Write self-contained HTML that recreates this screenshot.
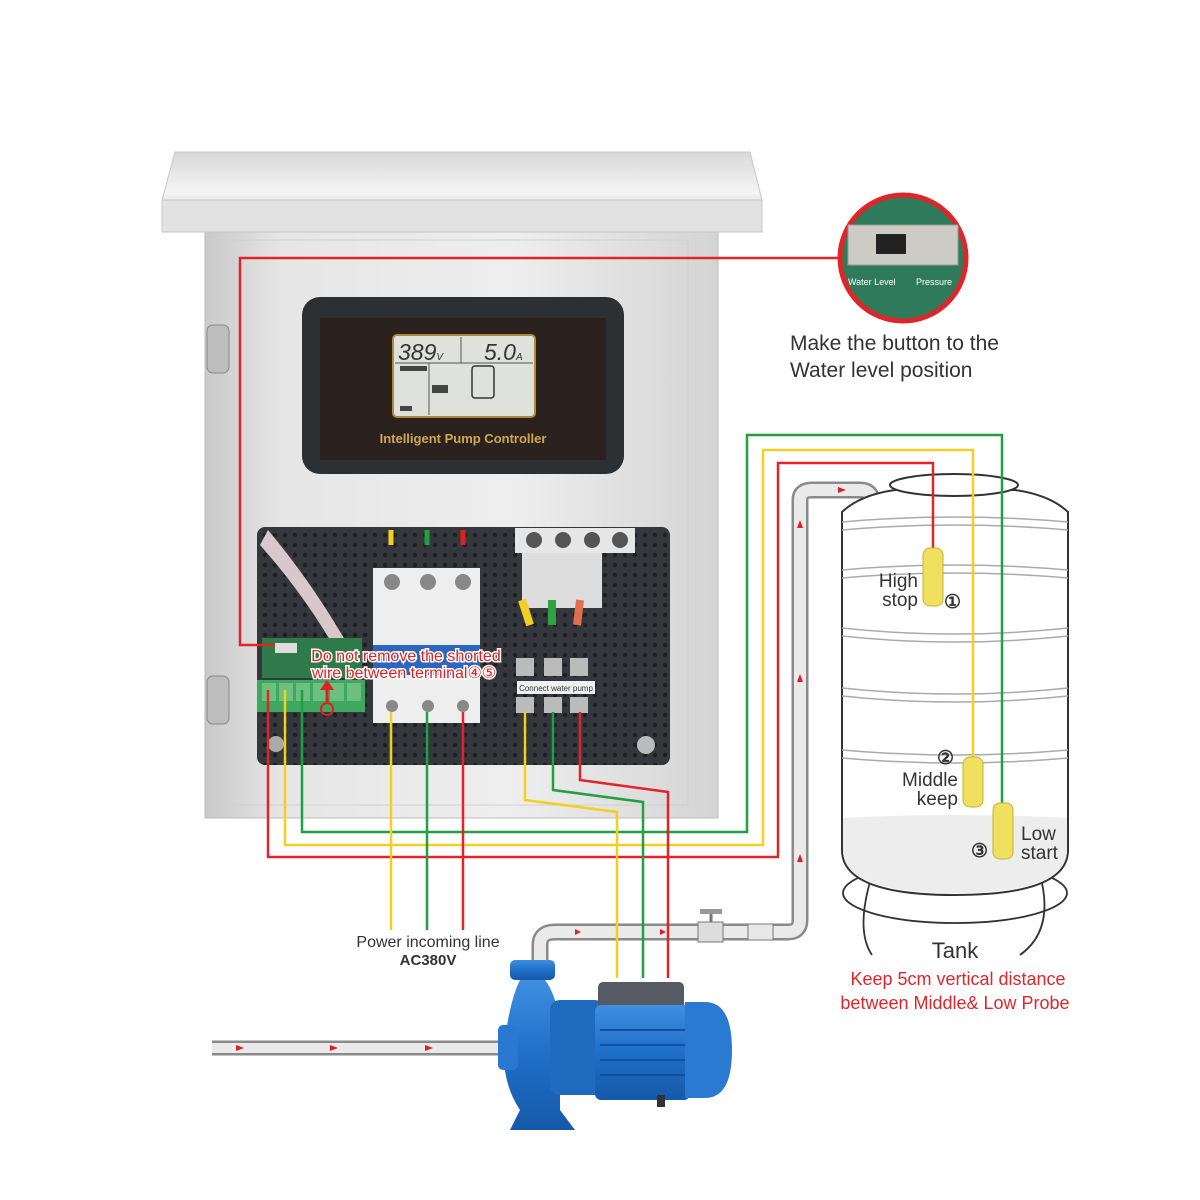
<!DOCTYPE html>
<html><head><meta charset="utf-8"><style>
html,body{margin:0;padding:0;background:#fff;width:1200px;height:1200px;overflow:hidden}
svg{display:block}
text{font-family:"Liberation Sans",sans-serif}
</style></head><body>
<svg width="1200" height="1200" viewBox="0 0 1200 1200" xmlns="http://www.w3.org/2000/svg">
<defs>
<linearGradient id="roof" x1="0" y1="0" x2="0" y2="1"><stop offset="0" stop-color="#d8d8d8"/><stop offset="0.5" stop-color="#f4f4f4"/><stop offset="1" stop-color="#c4c4c4"/></linearGradient>
<linearGradient id="body" x1="0" y1="0" x2="1" y2="0"><stop offset="0" stop-color="#c9c9c9"/><stop offset="0.15" stop-color="#e6e6e6"/><stop offset="0.6" stop-color="#eeeeee"/><stop offset="1" stop-color="#d4d4d4"/></linearGradient>
<pattern id="holes" width="10" height="10" patternUnits="userSpaceOnUse"><rect width="10" height="10" fill="#34373b"/><circle cx="5" cy="5" r="2.2" fill="#1c1e21"/></pattern>
<linearGradient id="blue" x1="0" y1="0" x2="0" y2="1"><stop offset="0" stop-color="#3e8fe0"/><stop offset="0.5" stop-color="#1e6fc8"/><stop offset="1" stop-color="#1659a8"/></linearGradient>
</defs>

<rect x="205" y="228" width="513" height="590" fill="url(#body)" stroke="#bbb"/>
<rect x="218" y="240" width="470" height="565" fill="none" stroke="#d0d0d0"/>
<polygon points="175,152 750,152 762,200 762,232 162,232 162,200" fill="url(#roof)" stroke="#c8c8c8"/>
<rect x="162" y="200" width="600" height="32" fill="#e2e2e2" stroke="#c6c6c6"/>
<rect x="207" y="325" width="22" height="48" rx="6" fill="#bdbdbd" stroke="#888"/>
<rect x="207" y="676" width="22" height="48" rx="6" fill="#bdbdbd" stroke="#888"/>

<rect x="302" y="297" width="322" height="177" rx="18" fill="#2d3032"/>
<rect x="320" y="318" width="286" height="142" fill="#2b2220"/>
<rect x="393" y="335" width="142" height="82" rx="4" fill="#dfe2dc" stroke="#b08a3a" stroke-width="2"/>
<line x1="395" y1="363" x2="533" y2="363" stroke="#555"/>
<line x1="461" y1="337" x2="461" y2="363" stroke="#555"/>
<line x1="429" y1="363" x2="429" y2="415" stroke="#555"/>
<text x="398" y="360" font-size="23" font-style="italic" fill="#333">389<tspan font-size="10">V</tspan></text>
<text x="484" y="360" font-size="23" font-style="italic" fill="#333">5.0<tspan font-size="10">A</tspan></text>
<rect x="472" y="366" width="22" height="32" rx="3" fill="none" stroke="#333" stroke-width="1.5"/>
<rect x="432" y="385" width="16" height="8" fill="#444"/>
<rect x="400" y="406" width="12" height="5" fill="#444"/>
<rect x="400" y="366" width="27" height="5" fill="#444"/>
<text x="463" y="443" font-size="13" font-weight="bold" fill="#d0a850" text-anchor="middle">Intelligent Pump Controller</text>

<rect x="257" y="527" width="413" height="238" rx="8" fill="url(#holes)"/>
<path d="M260 545 Q300 590 330 640 L345 640 Q310 580 268 530 Z" fill="#d8c8cc"/>
<rect x="262" y="638" width="100" height="40" fill="#2f7a4a"/>
<rect x="275" y="643" width="22" height="10" fill="#ddd"/>
<rect x="257" y="680" width="108" height="32" fill="#3fa860"/>
<g fill="#6dbf80"><rect x="262" y="683" width="14" height="18"/><rect x="279" y="683" width="14" height="18"/><rect x="296" y="683" width="14" height="18"/><rect x="313" y="683" width="14" height="18"/><rect x="330" y="683" width="14" height="18"/><rect x="347" y="683" width="14" height="18"/></g>
<circle cx="327" cy="709" r="6" fill="none" stroke="#e02020" stroke-width="2"/>
<line x1="327" y1="703" x2="327" y2="688" stroke="#e02020" stroke-width="3"/>
<polygon points="320,690 334,690 327,680" fill="#e02020"/>
<rect x="373" y="568" width="107" height="155" fill="#eeeeee"/>
<rect x="373" y="645" width="107" height="30" fill="#2a67c0"/>
<g fill="#888"><circle cx="392" cy="582" r="8"/><circle cx="428" cy="582" r="8"/><circle cx="463" cy="582" r="8"/><circle cx="392" cy="706" r="6"/><circle cx="428" cy="706" r="6"/><circle cx="463" cy="706" r="6"/></g>
<rect x="515" y="528" width="120" height="25" fill="#e6e6e6"/>
<g fill="#555"><circle cx="534" cy="540" r="8"/><circle cx="563" cy="540" r="8"/><circle cx="592" cy="540" r="8"/><circle cx="620" cy="540" r="8"/></g>
<rect x="522" y="553" width="80" height="55" fill="#ddd"/>
<path d="M522 600 L530 625" stroke="#f0d020" stroke-width="8"/>
<path d="M552 600 L552 625" stroke="#30a040" stroke-width="8"/>
<path d="M580 600 L577 625" stroke="#e07050" stroke-width="8"/>
<g fill="#bbb"><rect x="516" y="658" width="18" height="18"/><rect x="544" y="658" width="18" height="18"/><rect x="570" y="658" width="18" height="18"/><rect x="516" y="697" width="18" height="16"/><rect x="544" y="697" width="18" height="16"/><rect x="570" y="697" width="18" height="16"/></g>
<rect x="517" y="681" width="78" height="13" fill="#f0f0f0"/>
<text x="556" y="691" font-size="8" fill="#333" text-anchor="middle">Connect water pump</text>
<circle cx="276" cy="744" r="8" fill="#aaa"/><circle cx="646" cy="745" r="9" fill="#bbb"/>
<line x1="391" y1="530" x2="391" y2="545" stroke="#f2d020" stroke-width="5"/>
<line x1="427" y1="530" x2="427" y2="545" stroke="#20a040" stroke-width="5"/>
<line x1="463" y1="530" x2="463" y2="545" stroke="#e02020" stroke-width="5"/>
<text x="406" y="661" font-size="16" fill="#e02020" stroke="#fff" stroke-width="3" paint-order="stroke" text-anchor="middle">Do not remove the shorted</text>
<text x="404" y="678" font-size="16" fill="#e02020" stroke="#fff" stroke-width="3" paint-order="stroke" text-anchor="middle">wire between terminal④⑤</text>

<g fill="none">
<path d="M540 965 L540 945 Q540 932 555 932 L788 932 Q800 932 800 920 L800 500 Q800 490 812 490 L860 490 Q872 490 872 502 L872 535" stroke="#8a8a8a" stroke-width="17"/>
<path d="M540 965 L540 945 Q540 932 555 932 L788 932 Q800 932 800 920 L800 500 Q800 490 812 490 L860 490 Q872 490 872 502 L872 535" stroke="#eaeaea" stroke-width="12"/>
<line x1="212" y1="1048" x2="505" y2="1048" stroke="#8a8a8a" stroke-width="15"/>
<line x1="212" y1="1048" x2="505" y2="1048" stroke="#eaeaea" stroke-width="10"/>
</g>
<rect x="698" y="922" width="25" height="20" fill="#ddd" stroke="#777"/>
<line x1="711" y1="922" x2="711" y2="912" stroke="#777" stroke-width="3"/>
<rect x="700" y="909" width="22" height="5" fill="#999"/>
<rect x="748" y="924" width="25" height="16" fill="#e8e8e8" stroke="#777"/>
<g fill="#e02020"><polygon points="575,929 581,932 575,935"/><polygon points="660,929 666,932 660,935"/><polygon points="236,1045 244,1048 236,1051"/><polygon points="330,1045 338,1048 330,1051"/><polygon points="425,1045 433,1048 425,1051"/><polygon points="797,862 800,854 803,862"/><polygon points="797,682 800,674 803,682"/><polygon points="797,528 800,520 803,528"/><polygon points="838,487 846,490 838,493"/></g>
<g stroke="#555" stroke-width="1"><line x1="872" y1="538" x2="856" y2="550"/><line x1="872" y1="538" x2="864" y2="550"/><line x1="872" y1="538" x2="872" y2="550"/><line x1="872" y1="538" x2="880" y2="550"/><line x1="872" y1="538" x2="888" y2="550"/></g>

<g fill="none" stroke="#333" stroke-width="1.8">
<path d="M872 875 Q855 930 872 955 M1040 875 Q1055 930 1020 955"/>
<ellipse cx="955" cy="893" rx="112" ry="30"/>
</g>
<path d="M842 512 L842 850 Q842 895 955 895 Q1068 895 1068 850 L1068 512 Q1050 495 1015 490 L895 490 Q860 495 842 512 Z" fill="#fff" stroke="#333" stroke-width="2"/>
<path d="M843 818 Q955 812 1067 818 L1067 850 Q1067 893 955 893 Q843 893 843 850 Z" fill="#ededed"/>
<ellipse cx="954" cy="485" rx="64" ry="11" fill="#fff" stroke="#333" stroke-width="2"/>
<g fill="none" stroke="#aaa" stroke-width="1.5">
<path d="M842 522 Q955 512 1068 522 M842 530 Q955 520 1068 530"/>
<path d="M842 570 Q955 560 1068 570 M842 578 Q955 568 1068 578"/>
<path d="M842 628 Q955 640 1068 628 M842 636 Q955 648 1068 636"/>
<path d="M842 688 Q955 700 1068 688 M842 696 Q955 708 1068 696"/>
<path d="M842 750 Q955 760 1068 750 M842 758 Q955 768 1068 758"/>
</g>

<g fill="none" stroke-width="2.5">
<path d="M838 258 L240 258 L240 645 L275 645" stroke="#e0252a"/>
<path d="M268 690 L268 857 L778 857 L778 463 L933 463 L933 552" stroke="#e0252a"/>
<path d="M285 690 L285 845 L763 845 L763 450 L973 450 L973 760" stroke="#f2d020"/>
<path d="M302 690 L302 832 L747 832 L747 435 L1002 435 L1002 805" stroke="#20a040"/>
<path d="M391 712 L391 930" stroke="#f2d020"/>
<path d="M427 712 L427 930" stroke="#20a040"/>
<path d="M463 712 L463 930" stroke="#e0252a"/>
<path d="M525 712 L525 800 L617 812 L617 978" stroke="#f2d020"/>
<path d="M553 712 L553 790 L643 802 L643 978" stroke="#20a040"/>
<path d="M580 712 L580 780 L668 792 L668 978" stroke="#e0252a"/>
</g>

<g fill="#f0e060" stroke="#c8b030"><rect x="923" y="548" width="20" height="58" rx="7"/><rect x="963" y="757" width="20" height="50" rx="7"/><rect x="993" y="803" width="20" height="56" rx="7"/></g>
<g font-size="19" fill="#333">
<text x="918" y="587" text-anchor="end">High</text><text x="918" y="606" text-anchor="end">stop</text>
<text x="944" y="608" font-size="19" font-weight="bold">①</text>
<text x="937" y="764" font-size="19" font-weight="bold">②</text>
<text x="958" y="786" text-anchor="end">Middle</text><text x="958" y="805" text-anchor="end">keep</text>
<text x="1021" y="840">Low</text><text x="1021" y="859">start</text>
<text x="971" y="857" font-size="19" font-weight="bold">③</text>
</g>
<text x="955" y="958" font-size="22" fill="#333" text-anchor="middle">Tank</text>
<text x="958" y="985" font-size="18" fill="#e0252a" text-anchor="middle">Keep 5cm vertical distance</text>
<text x="955" y="1009" font-size="18" fill="#e0252a" text-anchor="middle">between Middle&amp; Low Probe</text>

<circle cx="903" cy="258" r="63" fill="#2f7a5a" stroke="#e0252a" stroke-width="5"/>
<rect x="848" y="225" width="110" height="40" fill="#ccccc4" stroke="#999"/>
<rect x="876" y="234" width="30" height="20" fill="#222"/>
<text x="848" y="285" font-size="9" fill="#fff">Water Level</text>
<text x="916" y="285" font-size="9" fill="#fff">Pressure</text>
<text x="790" y="350" font-size="21" fill="#333">Make the button to the</text>
<text x="790" y="377" font-size="21" fill="#333">Water level position</text>

<text x="428" y="947" font-size="16" fill="#333" text-anchor="middle">Power incoming line</text>
<text x="428" y="965" font-size="15" font-weight="bold" fill="#333" text-anchor="middle">AC380V</text>

<rect x="510" y="960" width="45" height="20" rx="5" fill="url(#blue)"/>
<path d="M520 980 L545 980 Q560 1000 560 1040 L560 1110 L575 1130 L510 1130 L520 1110 Q500 1080 505 1040 Q510 1000 520 980Z" fill="url(#blue)"/>
<rect x="498" y="1025" width="20" height="45" rx="5" fill="#2a78d0"/>
<rect x="550" y="1000" width="55" height="95" rx="10" fill="#1e6bc0"/>
<rect x="598" y="982" width="86" height="28" rx="5" fill="#555a63"/>
<rect x="595" y="1005" width="95" height="95" rx="6" fill="url(#blue)"/>
<g stroke="#1250a0" stroke-width="2"><line x1="600" y1="1030" x2="688" y2="1030"/><line x1="600" y1="1045" x2="688" y2="1045"/><line x1="600" y1="1060" x2="688" y2="1060"/><line x1="600" y1="1075" x2="688" y2="1075"/></g>
<path d="M685 1002 L705 1002 Q732 1002 732 1050 Q732 1098 705 1098 L685 1098 Z" fill="#2a7ad2"/>
<rect x="657" y="1095" width="8" height="12" fill="#333"/>
</svg>
</body></html>
